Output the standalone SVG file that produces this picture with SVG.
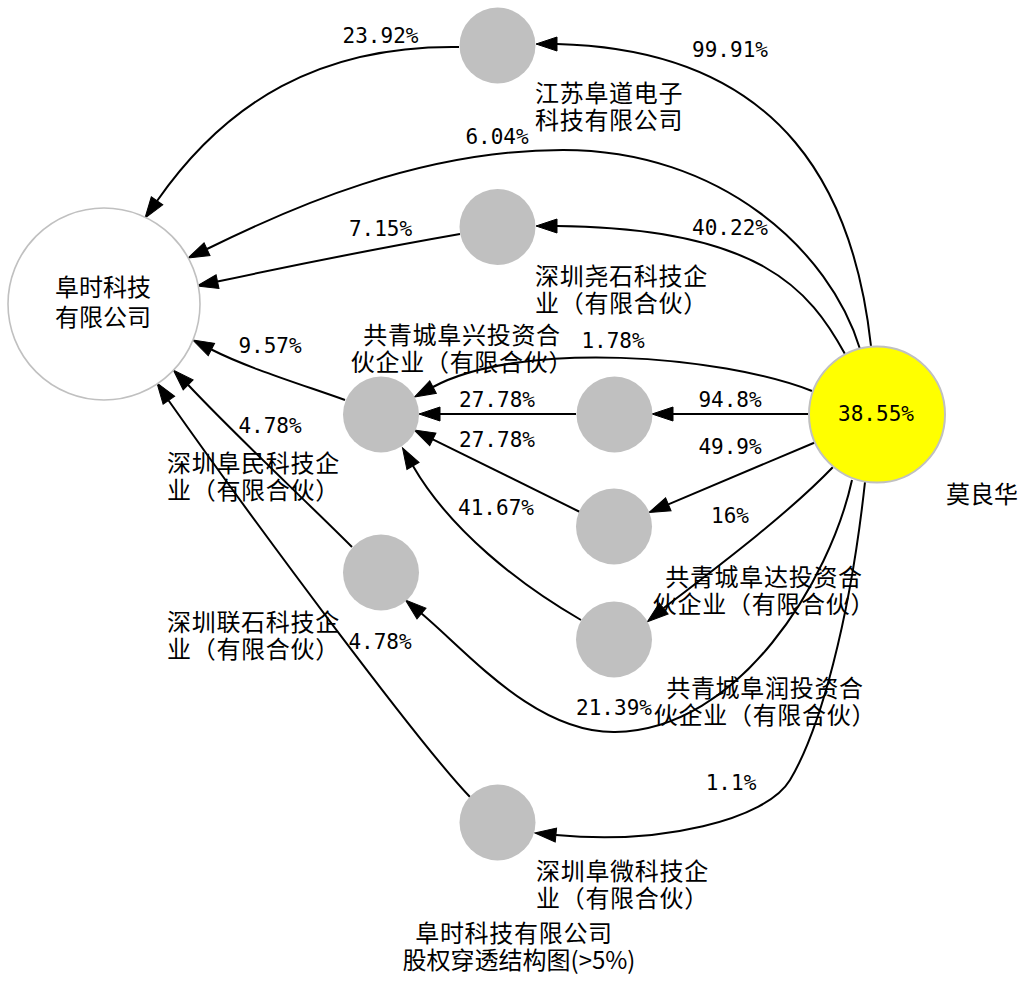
<svg xmlns="http://www.w3.org/2000/svg" xmlns:xlink="http://www.w3.org/1999/xlink" width="1030" height="994" viewBox="0 0 1030 994">
<style>
.bg{fill:#ffffff}
.main{fill:#ffffff;stroke:#c0c0c0;stroke-width:1.6}
.co{fill:#c0c0c0;stroke:none}
.pers{fill:#ffff00;stroke:#c0c0c0;stroke-width:2}
.e{fill:none;stroke:#000000;stroke-width:2}
.ah{fill:#000000;stroke:#000000;stroke-width:1;stroke-linejoin:miter}
.cjk{font-family:"Noto Sans CJK SC","Noto Sans",sans-serif;font-size:24px;fill:#000000}
.xl{letter-spacing:0.7px}
.pct{font-family:"DejaVu Sans Mono","Liberation Mono",monospace;font-size:21px;fill:#000000;text-anchor:middle}
.mid{text-anchor:middle}
</style>
<defs>
<path id="ah" class="ah" d="M0,0 L-21,-7 L-21,7 Z"/>
</defs>
<rect class="bg" x="0" y="0" width="1030" height="994"/>

<g id="connectors">
<g id="e-fudao-main"><path class="e" d="M459,47 C320,45 226,102 157,201"/><use xlink:href="#ah" href="#ah" transform="translate(145,218) rotate(125)"/><text class="pct" x="380.5" y="43">23.92%</text></g>
<g id="e-mo-fudao"><path class="e" d="M871,346 C855,200 790,50 557,44"/><use xlink:href="#ah" href="#ah" transform="translate(536,44) rotate(180)"/><text class="pct" x="730" y="57">99.91%</text></g>
<g id="e-mo-main"><path class="e" d="M860,349 C830,250 720,150 563,150 C420,150 290,208 207,249"/><use xlink:href="#ah" href="#ah" transform="translate(188,258) rotate(155)"/><text class="pct" x="497" y="144">6.04%</text></g>
<g id="e-yaoshi-main"><path class="e" d="M460,234 C380,248 290,266 217.5,281.6"/><use xlink:href="#ah" href="#ah" transform="translate(197,286) rotate(168)"/><text class="pct" x="380.5" y="236">7.15%</text></g>
<g id="e-mo-yaoshi"><path class="e" d="M845,354 C810,290 760,228 557,226"/><use xlink:href="#ah" href="#ah" transform="translate(536,226) rotate(180)"/><text class="pct" x="730" y="235">40.22%</text></g>
<g id="e-mo-fumin"><path class="e" d="M812,391 C720,355 520,340 433,387"/><use xlink:href="#ah" href="#ah" transform="translate(414.5,397) rotate(152)"/><text class="pct" x="613" y="348">1.78%</text></g>
<g id="e-mo-fuxing"><path class="e" d="M809,414 L673,414"/><use xlink:href="#ah" href="#ah" transform="translate(652,414) rotate(180)"/><text class="pct" x="730" y="407">94.8%</text></g>
<g id="e-fuxing-fumin"><path class="e" d="M576,414 L440,414"/><use xlink:href="#ah" href="#ah" transform="translate(419,414) rotate(180)"/><text class="pct" x="497" y="407">27.78%</text></g>
<g id="e-mo-fuda"><path class="e" d="M816,442 L668.3,504.3"/><use xlink:href="#ah" href="#ah" transform="translate(649,512.5) rotate(157)"/><text class="pct" x="730" y="454">49.9%</text></g>
<g id="e-fuda-fumin"><path class="e" d="M580,512 L432.8,439.3"/><use xlink:href="#ah" href="#ah" transform="translate(414,430) rotate(206.3)"/><text class="pct" x="497" y="447">27.78%</text></g>
<g id="e-furun-fumin"><path class="e" d="M581,620 C520,585 450,530 413,466"/><use xlink:href="#ah" href="#ah" transform="translate(402.5,447.8) rotate(240)"/><text class="pct" x="496" y="515">41.67%</text></g>
<g id="e-mo-furun"><path class="e" d="M833,467 C790,512 720,565 663.5,608.2"/><use xlink:href="#ah" href="#ah" transform="translate(647.4,621.7) rotate(141)"/><text class="pct" x="730" y="523">16%</text></g>
<g id="e-mo-lianshi"><path class="e" d="M852,480 C830,580 740,730 615,732 C535,733 467.5,652 421.5,613.5"/><use xlink:href="#ah" href="#ah" transform="translate(405.4,600) rotate(220)"/><text class="pct" x="614" y="715">21.39%</text></g>
<g id="e-mo-fuwei"><path class="e" d="M865,482 C850,620 820,730 790,780 C766,820 660,845 556,835"/><use xlink:href="#ah" href="#ah" transform="translate(535,833) rotate(185.5)"/><text class="pct" x="731" y="790">1.1%</text></g>
<g id="e-lianshi-main"><path class="e" d="M352,547 C300,495 240,440 188,384.8"/><use xlink:href="#ah" href="#ah" transform="translate(173.3,370) rotate(225)"/><text class="pct" x="380" y="649">4.78%</text></g>
<g id="e-fuwei-main"><path class="e" d="M470,797 C420,745 260,530 168.6,400.5"/><use xlink:href="#ah" href="#ah" transform="translate(157,383) rotate(235.5)"/><text class="pct" x="270" y="433">4.78%</text></g>
<g id="e-fumin-main"><path class="e" d="M345,400 C300,384 247,367.7 211.4,349.5"/><use xlink:href="#ah" href="#ah" transform="translate(192.7,340) rotate(207)"/><text class="pct" x="270" y="353">9.57%</text></g>
</g>

<g id="n-main">
<circle class="main" cx="104" cy="304" r="96"/>
<text class="cjk mid"><tspan x="103" y="296">阜时科技</tspan><tspan x="103" y="326">有限公司</tspan></text>
</g>
<g id="n-fudao">
<circle class="co" cx="497.5" cy="45.5" r="38"/>
<text class="cjk xl"><tspan x="535" y="102">江苏阜道电子</tspan><tspan x="535" y="129">科技有限公司</tspan></text>
</g>
<g id="n-yaoshi">
<circle class="co" cx="497.5" cy="227" r="38"/>
<text class="cjk xl"><tspan x="535" y="285">深圳尧石科技企</tspan><tspan x="535" y="312">业（有限合伙）</tspan></text>
</g>
<g id="n-fumin">
<circle class="co" cx="381" cy="414.5" r="38"/>
<text class="cjk xl"><tspan x="167" y="472">深圳阜民科技企</tspan><tspan x="167" y="499">业（有限合伙）</tspan></text>
</g>
<g id="n-fuxing">
<circle class="co" cx="614.5" cy="414.5" r="38"/>
<text class="cjk xl mid"><tspan x="462" y="344">共青城阜兴投资合</tspan><tspan x="462" y="371">伙企业（有限合伙）</tspan></text>
</g>
<g id="n-fuda">
<circle class="co" cx="614" cy="526.5" r="38"/>
<text class="cjk xl mid"><tspan x="764" y="586">共青城阜达投资合</tspan><tspan x="764" y="613">伙企业（有限合伙）</tspan></text>
</g>
<g id="n-furun">
<circle class="co" cx="614" cy="639.5" r="38"/>
<text class="cjk xl mid"><tspan x="765" y="697">共青城阜润投资合</tspan><tspan x="765" y="724">伙企业（有限合伙）</tspan></text>
</g>
<g id="n-lianshi">
<circle class="co" cx="381" cy="572.5" r="38"/>
<text class="cjk xl"><tspan x="167" y="631">深圳联石科技企</tspan><tspan x="167" y="658">业（有限合伙）</tspan></text>
</g>
<g id="n-fuwei">
<circle class="co" cx="497.5" cy="822.5" r="38"/>
<text class="cjk xl"><tspan x="536" y="880">深圳阜微科技企</tspan><tspan x="536" y="907">业（有限合伙）</tspan></text>
</g>
<g id="n-mo">
<circle class="pers" cx="877" cy="414.5" r="68"/>
<text class="pct" x="876" y="421">38.55%</text>
<text class="cjk" x="946" y="503">莫良华</text>
</g>
<g id="title">
<text class="cjk mid"><tspan class="xl" x="514" y="942">阜时科技有限公司</tspan><tspan x="519" y="969">股权穿透结构图(&gt;5%)</tspan></text>
</g>
</svg>
